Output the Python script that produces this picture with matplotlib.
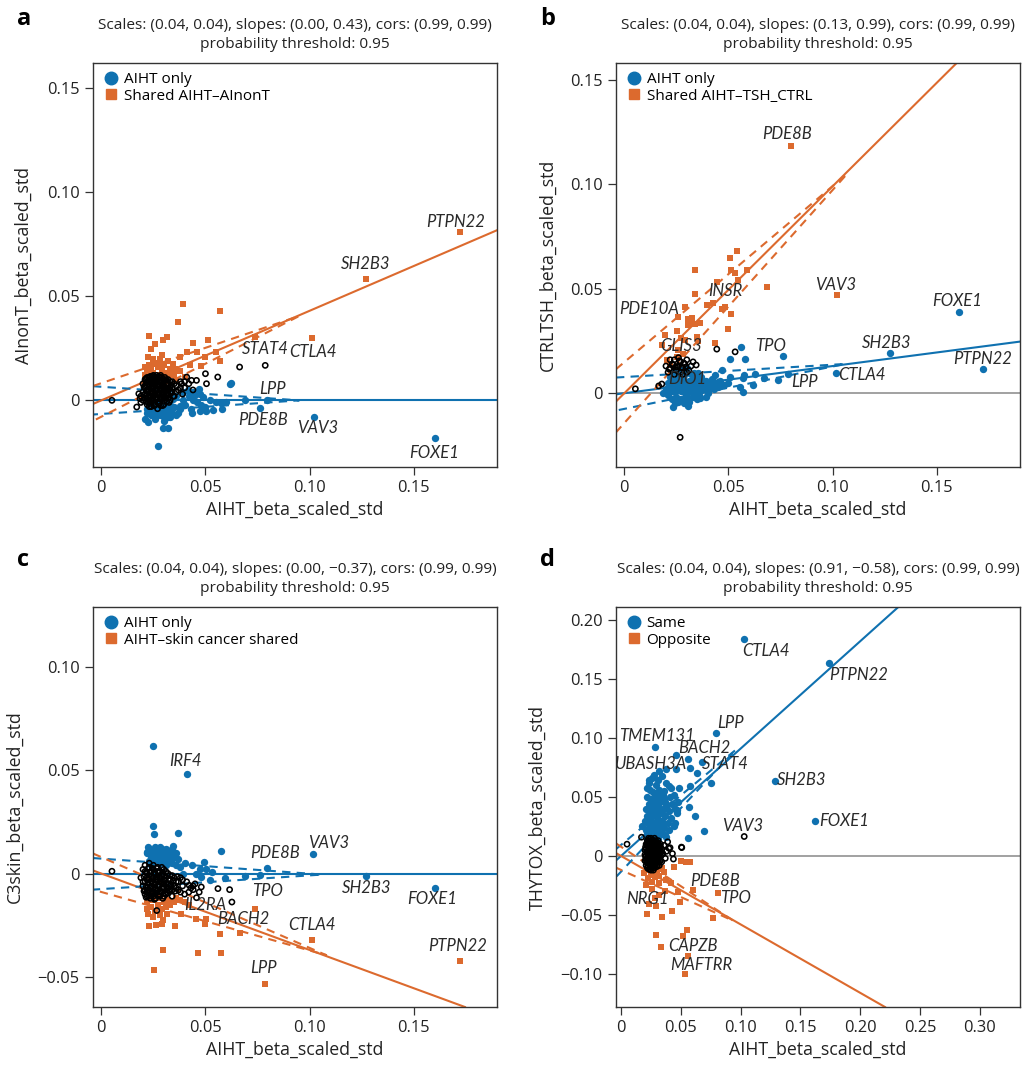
import matplotlib
matplotlib.use("Agg")
import matplotlib.pyplot as plt
from matplotlib.lines import Line2D

plt.rcParams['font.family'] = ['Open Sans', 'DejaVu Sans']

BLUE = '#0f71b0'
ORANGE = '#dc6a2e'

# ---------------- Panel a ----------------
a_blue = [(0.160,-0.018),(0.102,-0.008),(0.0763,-0.0038),(0.0796,0.0),(0.0688,0.0),(0.0274,-0.0219),
          (0.0295,-0.0133),(0.0318,-0.0133),(0.0226,-0.0104),(0.021,-0.0088),(0.0258,-0.008),(0.033,-0.008),
          (0.036,-0.0072),(0.0433,-0.006),(0.0473,-0.0053),(0.0505,-0.0053),(0.0537,-0.0048),(0.0576,-0.0013),
          (0.0616,0.008),(0.0624,0.0085),(0.047,0.0056),(0.0417,0.0048),(0.049,0.0016),(0.052,0.0),
          (0.0553,-0.0008),(0.0393,0.0),(0.0346,0.0008),(0.0314,-0.0016),(0.028,-0.0032),(0.0242,-0.0024),
          (0.0218,-0.004),(0.0266,-0.0056),(0.0306,-0.0064),(0.0377,-0.0029),(0.0441,0.0),(0.0473,0.0032),
          (0.045,0.0024),(0.023,-0.002),(0.025,-0.003),(0.027,-0.001),(0.029,-0.004),(0.031,-0.002),
          (0.033,-0.005),(0.035,-0.003),(0.026,-0.006),(0.024,-0.007),(0.028,-0.007),(0.032,-0.008),
          (0.037,-0.006),(0.040,-0.002),(0.043,-0.004),(0.046,-0.001),(0.022,-0.006),(0.030,-0.010),
          (0.026,-0.009),(0.034,-0.006),(0.038,-0.004),(0.036,0.002),(0.039,0.004),(0.042,0.002),
          (0.044,0.004),(0.048,-0.002),(0.050,-0.003),(0.058,-0.004),(0.060,-0.001),(0.0235,-0.0045),
          (0.0255,-0.0045),(0.0275,-0.0055),(0.0295,-0.0075),(0.0315,-0.0045),(0.0335,-0.0025)]
a_orange = [(0.039,0.0462),(0.0569,0.0428),(0.037,0.0375),(0.0229,0.0308),(0.0295,0.0288),(0.0258,0.0272),
            (0.0314,0.0304),(0.0438,0.0275),(0.051,0.0292),(0.074,0.0304),(0.101,0.0299),(0.127,0.0581),
            (0.172,0.0807),(0.041,0.0232),(0.046,0.0232),(0.055,0.0232),(0.050,0.0208),(0.057,0.0187),
            (0.0377,0.0208),(0.0342,0.0176),(0.0425,0.0168),(0.048,0.0163),(0.0354,0.0152),(0.028,0.020),
            (0.024,0.0248),(0.0226,0.021),(0.0266,0.0176),(0.022,0.014),(0.023,0.012),(0.024,0.015),
            (0.025,0.013),(0.026,0.011),(0.027,0.016),(0.028,0.012),(0.029,0.014),(0.030,0.011),(0.031,0.013),
            (0.032,0.012),(0.033,0.015),(0.024,0.011),(0.021,0.012),(0.023,0.017),(0.026,0.018),(0.028,0.019),
            (0.035,0.012),(0.038,0.014),(0.040,0.011),(0.036,0.010),(0.025,0.020),(0.029,0.022),(0.021,0.016),
            (0.030,0.017),(0.032,0.019)]
a_other = [(0.0051,0.0),(0.0664,0.016),(0.0787,0.0168),(0.0559,0.0112),(0.050,0.0128),(0.041,0.0112),
           (0.0457,0.0096),(0.0505,0.008),(0.0385,0.008),(0.017,-0.0032),(0.018,0.0032),(0.0186,0.0008),
           (0.0433,0.0096),(0.020,0.004),(0.020,0.008),(0.021,0.001),(0.021,0.006),(0.021,0.010),(0.022,-0.002),
           (0.022,0.003),(0.022,0.007),(0.022,0.011),(0.023,0.000),(0.023,0.005),(0.023,0.009),(0.024,-0.003),
           (0.024,0.002),(0.024,0.006),(0.024,0.010),(0.025,0.000),(0.025,0.004),(0.025,0.008),(0.025,0.012),
           (0.026,-0.002),(0.026,0.003),(0.026,0.007),(0.026,0.010),(0.027,0.001),(0.027,0.005),(0.027,0.009),
           (0.028,-0.001),(0.028,0.003),(0.028,0.007),(0.028,0.011),(0.029,0.001),(0.029,0.005),(0.029,0.009),
           (0.030,-0.002),(0.030,0.003),(0.030,0.007),(0.031,0.001),(0.031,0.005),(0.031,0.010),(0.032,0.003),
           (0.032,0.008),(0.033,0.000),(0.033,0.006),(0.034,0.004),(0.034,0.009),(0.035,0.002),(0.036,0.007),
           (0.037,0.005),(0.038,0.009),(0.039,0.003),(0.040,0.006),(0.042,0.008),(0.044,0.005),(0.019,0.002),
           (0.019,-0.001),(0.023,-0.003),(0.027,-0.004),
           (0.0205,0.0025),(0.0205,0.0065),(0.0215,-0.0005),(0.0215,0.0045),(0.0215,0.0085),(0.0225,0.0015),
           (0.0225,0.0055),(0.0225,0.0095),(0.0235,-0.0015),(0.0235,0.0035),(0.0235,0.0075),(0.0235,0.0115),
           (0.0245,0.0005),(0.0245,0.0045),(0.0245,0.0085),(0.0255,-0.0025),(0.0255,0.0025),(0.0255,0.0065),
           (0.0255,0.0105),(0.0265,0.0015),(0.0265,0.0055),(0.0265,0.0095),(0.0275,-0.0015),(0.0275,0.0035),
           (0.0275,0.0075),(0.0275,0.0115),(0.0285,0.0005),(0.0285,0.0055),(0.0285,0.0095),(0.0295,-0.0025),
           (0.0295,0.0035),(0.0295,0.0075),(0.0305,0.0015),(0.0305,0.0055),(0.0305,0.0095),(0.0315,-0.0005),
           (0.0315,0.0035),(0.0315,0.0075),(0.0325,0.0015),(0.0325,0.0055),(0.0335,0.0035),(0.0335,0.0075),
           (0.0210,0.0030),(0.0230,0.0070),(0.0250,0.0020),(0.0270,0.0070),(0.0290,0.0030),(0.0310,0.0080),
           (0.0240,0.0080),(0.0260,0.0050),(0.0280,0.0090),(0.0300,0.0050),(0.0220,0.0050),(0.0320,0.0050),
           (0.0200,0.0000),(0.0210,0.0070),(0.0220,0.0090),(0.0230,0.0020),(0.0230,0.0110),(0.0240,0.0000),
           (0.0240,0.0040),(0.0250,0.0060),(0.0250,0.0100),(0.0260,0.0010),(0.0260,0.0085),(0.0270,0.0030),
           (0.0270,0.0110),(0.0280,0.0010),(0.0280,0.0050),(0.0290,0.0070),(0.0290,0.0110),(0.0300,0.0010),
           (0.0300,0.0090),(0.0310,0.0030),(0.0310,0.0060),(0.0320,0.0010),(0.0320,0.0100),(0.0330,0.0040),
           (0.0330,0.0090),(0.0340,0.0060),(0.0345,0.0020),(0.0350,0.0080),(0.0215,0.0105),(0.0245,0.0115),
           (0.0265,0.0120),(0.0285,0.0120),(0.0305,0.0110),(0.0225,-0.0010),(0.0255,-0.0010),(0.0285,-0.0025),
           (0.0325,-0.0010),(0.0360,0.0040),(0.0380,0.0060),(0.0400,0.0090)]
a_slopes = (0.00, 0.43)
a_env_blue = ([-0.004, 0.095, -0.004], [0.0068, 0.0, -0.0068])
a_env_orange = ([-0.004, 0.095, -0.004], [0.0069, 0.0405, -0.0099])
a_genes = [("PTPN22",0.1702,0.0855),("SH2B3",0.1269,0.0655),("STAT4",0.0787,0.0248),("CTLA4",0.1014,0.0232),
           ("LPP",0.0823,0.0056),("PDE8B",0.0775,-0.0096),("VAV3",0.1038,-0.0133),("FOXE1",0.160,-0.0251)]

# ---------------- Panel b ----------------
b_blue = [(0.1607,0.039),(0.1275,0.0194),(0.1724,0.0116),(0.1016,0.0095),(0.0764,0.0179),(0.0559,0.0219),
          (0.0508,0.0162),(0.0579,0.0162),(0.0468,0.0111),(0.0436,0.0087),(0.0508,0.0079),(0.0575,0.0087),
          (0.0628,0.0092),(0.067,0.0071),(0.074,0.0063),(0.0788,0.0092),(0.062,0.004),(0.0572,0.0071),
          (0.0556,0.0032),(0.0572,0.0005),(0.050,0.0048),(0.0452,0.0056),(0.0412,0.0048),(0.0372,0.0063),
          (0.0356,0.0095),(0.0404,0.0016),(0.0364,-0.0024),(0.0308,-0.0063),(0.0233,-0.0067),(0.0292,-0.0032),
          (0.0188,0.0),(0.020,0.002),(0.021,-0.001),(0.022,0.004),(0.023,0.001),(0.023,-0.003),(0.024,0.006),
          (0.025,0.002),(0.025,-0.002),(0.026,0.005),(0.026,0.008),(0.027,0.001),(0.027,-0.003),(0.028,0.004),
          (0.028,0.007),(0.029,0.000),(0.029,0.009),(0.030,0.003),(0.030,-0.002),(0.031,0.006),(0.032,0.001),
          (0.032,0.009),(0.033,0.004),(0.033,-0.002),(0.034,0.007),(0.035,0.002),(0.036,0.005),(0.036,-0.001),
          (0.037,0.008),(0.038,0.003),(0.039,0.006),(0.040,0.000),(0.041,0.004),(0.042,0.007),(0.043,0.002),
          (0.044,0.005),(0.045,0.003),(0.046,0.006),(0.048,0.004),(0.024,0.010),(0.027,0.011),(0.030,0.012),
          (0.022,0.008),(0.021,0.005),(0.031,-0.004),(0.026,-0.004),(0.035,-0.003),(0.039,-0.002),
          (0.0215,0.0025),(0.0235,0.0045),(0.0245,0.0005),(0.0265,0.0025),(0.0275,0.0065),(0.0285,0.0015),
          (0.0295,0.0055),(0.0305,0.0005),(0.0315,0.0035),(0.0325,0.0065),(0.0345,0.0005),(0.0355,0.0045),
          (0.0375,0.0015),(0.0395,0.0035),(0.0245,-0.0045),(0.0285,-0.0045),(0.0335,0.0095)]
b_orange = [(0.0799,0.1183),(0.1022,0.047),(0.054,0.068),(0.0508,0.0646),(0.0337,0.059),(0.0591,0.059),
            (0.0513,0.059),(0.0532,0.0575),(0.0548,0.0543),(0.0447,0.0532),(0.0687,0.0508),(0.0337,0.0473),
            (0.0425,0.0432),(0.0396,0.0424),(0.0292,0.0413),(0.0471,0.0402),(0.0484,0.0413),(0.0256,0.0365),
            (0.0511,0.0378),(0.0305,0.0357),(0.0327,0.036),(0.0364,0.0337),(0.0308,0.0325),(0.0324,0.033),
            (0.034,0.0333),(0.050,0.0306),(0.0251,0.0297),(0.0193,0.0278),(0.0273,0.0262),(0.0348,0.027),
            (0.0292,0.0254),(0.0353,0.0251),(0.018,0.023),(0.0436,0.0238),(0.026,0.0206),(0.0284,0.019),
            (0.0204,0.0159),(0.0252,0.0175),(0.022,0.0135)]
b_other = [(0.0268,-0.0211),(0.0053,0.0021),(0.0165,0.0035),(0.018,0.0044),(0.0444,0.0211),(0.0532,0.0198),
           (0.0345,0.0135),(0.022,0.012),(0.023,0.014),(0.024,0.016),(0.025,0.011),(0.026,0.013),(0.027,0.015),
           (0.028,0.012),(0.029,0.014),(0.030,0.016),(0.031,0.011),(0.021,0.010),(0.024,0.009),(0.028,0.009),
           (0.032,0.013),(0.020,0.013),(0.026,0.017),(0.030,0.010),(0.033,0.015),(0.022,0.016),(0.027,0.010),
           (0.0215,0.0115),(0.0235,0.0135),(0.0255,0.0125),(0.0265,0.0155),(0.0275,0.0125),(0.0285,0.0145),
           (0.0295,0.0125),(0.0245,0.0125)]
b_slopes = (0.13, 0.99)
b_env_blue = ([-0.004, 0.106, -0.004], [0.0075, 0.014, -0.0083])
b_env_orange = ([-0.004, 0.107, -0.004], [0.0115, 0.105, -0.0187])
b_genes = [("PDE8B",0.0781,0.1238),("VAV3",0.1016,0.0516),("FOXE1",0.1599,0.044),("SH2B3",0.1262,0.0241),
           ("PTPN22",0.1722,0.0163),("CTLA4",0.1142,0.0087),("LPP",0.0867,0.0056),("TPO",0.0704,0.0225),
           ("INSR",0.0484,0.0487),("PDE10A",0.012,0.0402),("GLIS3",0.0272,0.0227),("DIO1",0.030,0.0068)]

# ---------------- Panel c ----------------
c_blue = [(0.025,0.0617),(0.0411,0.0482),(0.0247,0.0232),(0.0252,0.0192),(0.0366,0.0198),(0.0344,0.0135),
          (0.0576,0.0109),(0.1018,0.0096),(0.0796,0.0028),(0.0761,-0.0008),(0.0688,-0.0011),(0.0594,-0.0023),
          (0.1269,-0.0011),(0.160,-0.0071),(0.052,-0.0032),(0.0533,0.0008),(0.0505,0.0024),(0.0492,0.0057),
          (0.0473,0.002),(0.0433,0.004),(0.0401,0.0052),(0.039,0.0),(0.0346,0.0097),(0.0314,0.0106),
          (0.0282,0.013),(0.0218,0.0106),(0.0226,0.013),(0.0266,0.0081),(0.0306,0.0073),(0.0322,0.0049),
          (0.0457,0.0),(0.048,-0.0016),(0.022,0.010),(0.023,0.012),(0.024,0.008),(0.025,0.011),(0.025,0.006),
          (0.026,0.013),(0.026,0.009),(0.027,0.007),(0.027,0.011),(0.028,0.010),(0.028,0.005),(0.029,0.012),
          (0.029,0.008),(0.030,0.010),(0.030,0.006),(0.031,0.012),(0.031,0.004),(0.032,0.009),(0.033,0.007),
          (0.033,0.011),(0.034,0.005),(0.035,0.008),(0.036,0.004),(0.037,0.007),(0.038,0.003),(0.024,0.004),
          (0.023,0.006),(0.034,0.012),(0.036,0.010)]
c_orange = [(0.172,-0.0425),(0.0787,-0.0536),(0.1011,-0.032),(0.0739,-0.017),(0.0667,-0.0286),(0.0568,-0.0292),
            (0.0576,-0.0385),(0.0462,-0.0385),(0.0295,-0.037),(0.0252,-0.0468),(0.0229,-0.0256),(0.0261,-0.0247),
            (0.0293,-0.0244),(0.0298,-0.0227),(0.0354,-0.0256),(0.0381,-0.0195),(0.0457,-0.0219),(0.0505,-0.0219),
            (0.0497,-0.0244),(0.0226,-0.0195),(0.025,-0.0211),(0.0282,-0.0203),(0.0314,-0.0195),(0.0218,-0.017),
            (0.022,-0.014),(0.024,-0.016),(0.025,-0.013),(0.027,-0.015),(0.028,-0.012),(0.029,-0.017),
            (0.030,-0.014),(0.031,-0.016),(0.032,-0.013),(0.033,-0.015),(0.035,-0.014),(0.036,-0.012),
            (0.038,-0.013),(0.040,-0.014),(0.042,-0.015),(0.026,-0.018),(0.023,-0.013)]
c_other = [(0.0051,0.0011),(0.0627,-0.0138),(0.0616,-0.0078),(0.056,-0.0073),(0.048,-0.0065),(0.0441,-0.0078),
           (0.0422,-0.0057),(0.0457,-0.0117),(0.0266,-0.0179),(0.019,-0.002),(0.020,0.002),(0.020,-0.006),
           (0.021,0.004),(0.021,-0.004),(0.021,-0.010),(0.022,0.000),(0.022,-0.007),(0.023,0.005),(0.023,-0.003),
           (0.023,-0.011),(0.024,0.001),(0.024,-0.006),(0.025,0.004),(0.025,-0.002),(0.025,-0.009),(0.026,0.000),
           (0.026,-0.005),(0.026,-0.012),(0.027,0.003),(0.027,-0.003),(0.027,-0.008),(0.028,0.001),(0.028,-0.006),
           (0.028,-0.011),(0.029,-0.001),(0.029,-0.004),(0.029,-0.009),(0.030,0.002),(0.030,-0.007),(0.031,-0.002),
           (0.031,-0.010),(0.032,0.000),(0.032,-0.005),(0.033,-0.008),(0.033,-0.003),(0.034,-0.001),(0.034,-0.011),
           (0.035,-0.006),(0.036,-0.004),(0.037,-0.008),(0.038,-0.002),(0.039,-0.006),(0.040,-0.010),(0.041,-0.004),
           (0.043,-0.007),(0.045,-0.005),(0.047,-0.009),
           (0.0205,-0.0015),(0.0205,-0.0085),(0.0215,0.0005),(0.0215,-0.0065),(0.0225,0.0025),(0.0225,-0.0045),
           (0.0225,-0.0095),(0.0235,0.0005),(0.0235,-0.0065),(0.0245,0.0025),(0.0245,-0.0025),(0.0245,-0.0095),
           (0.0255,0.0005),(0.0255,-0.0055),(0.0265,0.0025),(0.0265,-0.0025),(0.0265,-0.0085),(0.0275,0.0005),
           (0.0275,-0.0055),(0.0275,-0.0105),(0.0285,-0.0025),(0.0285,-0.0085),(0.0295,0.0005),(0.0295,-0.0065),
           (0.0305,-0.0035),(0.0305,-0.0095),(0.0315,-0.0065),(0.0325,-0.0025),(0.0325,-0.0085),(0.0335,-0.0055),
           (0.0345,-0.0035),(0.0355,-0.0085),(0.0365,-0.0015),
           (0.0220,-0.0020),(0.0240,-0.0040),(0.0260,-0.0070),(0.0280,-0.0040),(0.0300,-0.0050),(0.0220,-0.0080),
           (0.0240,-0.0100),(0.0260,-0.0030),(0.0280,-0.0090),(0.0300,-0.0010),(0.0320,-0.0070),(0.0250,-0.0070),
           (0.0200,-0.0040),(0.0210,-0.0080),(0.0210,0.0010),(0.0220,-0.0030),(0.0220,-0.0110),(0.0230,-0.0080),
           (0.0230,0.0030),(0.0240,-0.0010),(0.0240,-0.0070),(0.0250,-0.0110),(0.0250,0.0020),(0.0260,-0.0040),
           (0.0260,-0.0095),(0.0270,0.0010),(0.0270,-0.0060),(0.0280,-0.0020),(0.0280,-0.0100),(0.0290,0.0030),
           (0.0290,-0.0070),(0.0300,-0.0030),(0.0300,-0.0110),(0.0310,-0.0050),(0.0310,0.0010),(0.0320,-0.0095),
           (0.0330,-0.0010),(0.0330,-0.0060),(0.0340,-0.0080),(0.0350,-0.0020),(0.0360,-0.0070),(0.0370,-0.0040),
           (0.0380,-0.0090),(0.0390,-0.0030),(0.0215,-0.0115),(0.0235,-0.0120),(0.0255,-0.0125),(0.0295,-0.0120),
           (0.0420,-0.0090),(0.0440,-0.0060)]
c_slopes = (0.00, -0.37)
c_env_blue = ([-0.004, 0.106, -0.004], [0.0075, -0.0005, -0.0078])
c_env_orange = ([-0.004, 0.108, -0.004], [0.0097, -0.0395, -0.0078])
c_genes = [("IRF4",0.0403,0.0547),("VAV3",0.1094,0.0149),("PDE8B",0.0834,0.0101),("TPO",0.0799,-0.0084),
           ("SH2B3",0.1272,-0.0068),("FOXE1",0.1588,-0.0125),("IL2RA",0.0500,-0.0150),("BACH2",0.0680,-0.0222),
           ("CTLA4",0.1011,-0.0247),("PTPN22",0.171,-0.0352),("LPP",0.078,-0.0458)]

# ---------------- Panel d ----------------
d_blue = [(0.1025,0.1838),(0.1742,0.1639),(0.0798,0.1045),(0.0284,0.0923),(0.0463,0.0852),(0.0556,0.0818),
          (0.0674,0.0798),(0.0374,0.0739),(0.0458,0.0733),(0.0576,0.0744),(0.0632,0.0699),(0.0275,0.069),
          (0.0233,0.0648),(0.0402,0.0591),(0.0486,0.0577),(0.0576,0.0591),(0.0753,0.0619),(0.1287,0.0639),
          (0.0219,0.0577),(0.036,0.0548),(0.0444,0.052),(0.057,0.0412),(0.0621,0.0335),(0.0452,0.0278),
          (0.0691,0.0213),(0.0562,0.0156),(0.1621,0.0298),(0.0374,0.042),(0.0472,0.0392),(0.0317,0.0307),
          (0.0177,0.025),(0.0402,0.0222),(0.036,0.0483),(0.020,0.030),(0.021,0.022),(0.021,0.040),(0.022,0.015),
          (0.022,0.034),(0.022,0.050),(0.023,0.026),(0.023,0.044),(0.024,0.018),(0.024,0.038),(0.024,0.056),
          (0.025,0.030),(0.025,0.048),(0.026,0.013),(0.026,0.022),(0.026,0.042),(0.027,0.035),(0.027,0.054),
          (0.028,0.017),(0.028,0.028),(0.028,0.046),(0.029,0.038),(0.029,0.060),(0.030,0.022),(0.030,0.032),
          (0.030,0.050),(0.031,0.014),(0.031,0.042),(0.032,0.026),(0.032,0.056),(0.033,0.036),(0.033,0.046),
          (0.034,0.019),(0.034,0.030),(0.035,0.040),(0.035,0.052),(0.036,0.024),(0.037,0.034),(0.037,0.046),
          (0.038,0.016),(0.039,0.028),(0.040,0.038),(0.041,0.050),(0.042,0.032),(0.043,0.044),(0.044,0.025),
          (0.045,0.040),(0.047,0.036),(0.048,0.046),(0.023,0.062),(0.026,0.066),(0.031,0.064),(0.034,0.068),
          (0.038,0.062),(0.042,0.058),(0.032,0.072),(0.0215,0.0185),(0.0235,0.0335),(0.0255,0.0395),
          (0.0265,0.0175),(0.0275,0.0245),(0.0285,0.0525),(0.0295,0.0155),(0.0305,0.0425),(0.0315,0.0295),
          (0.0325,0.0195),(0.0335,0.0505),(0.0345,0.0365),(0.0355,0.0275),(0.0365,0.0175),(0.0385,0.0435)]
d_orange = [(0.0534,-0.100),(0.0556,-0.0852),(0.0337,-0.0773),(0.0295,-0.0673),(0.052,-0.0679),(0.0548,-0.0625),
            (0.0346,-0.0517),(0.0219,-0.0494),(0.043,-0.0469),(0.0772,-0.0526),(0.0295,-0.0423),(0.0494,-0.0389),
            (0.0809,-0.0313),(0.0598,-0.029),(0.048,-0.0304),(0.0368,-0.0295),(0.0317,-0.0332),(0.0233,-0.0403),
            (0.0256,-0.0276),(0.0261,-0.0219),(0.0228,-0.019),(0.0374,-0.0205),(0.0444,-0.0097),(0.050,-0.004),
            (0.0579,-0.0048),(0.0542,-0.0048),(0.0289,-0.0148),(0.0346,-0.0105),(0.0317,-0.0233),(0.0416,-0.0233),
            (0.0191,-0.0148),(0.0211,-0.0247),(0.0284,-0.0352),(0.024,-0.012),(0.027,-0.010),(0.030,-0.013),
            (0.033,-0.011),(0.036,-0.014),(0.025,-0.016),(0.028,-0.018),(0.032,-0.017)]
d_other = [(0.005,0.010),(0.103,0.0165),(0.0508,0.0071),(0.0438,-0.0026),(0.0171,0.0159),(0.040,0.0065),
           (0.0505,0.0075),(0.020,0.005),(0.020,-0.004),(0.021,0.010),(0.021,0.000),(0.021,-0.008),(0.022,0.013),
           (0.022,0.004),(0.022,-0.005),(0.023,0.008),(0.023,-0.001),(0.023,-0.011),(0.024,0.011),(0.024,0.002),
           (0.024,-0.007),(0.025,0.015),(0.025,0.006),(0.025,-0.003),(0.025,-0.012),(0.026,0.009),(0.026,0.000),
           (0.026,-0.009),(0.027,0.012),(0.027,0.004),(0.027,-0.005),(0.028,0.007),(0.028,-0.002),(0.028,-0.010),
           (0.029,0.010),(0.029,0.001),(0.029,-0.007),(0.030,0.005),(0.030,-0.004),(0.031,0.013),(0.031,0.008),
           (0.031,-0.001),(0.032,0.003),(0.032,-0.008),(0.033,0.010),(0.033,0.000),(0.034,0.006),(0.034,-0.005),
           (0.035,0.002),(0.036,0.009),(0.037,-0.002),(0.038,0.004),(0.039,0.012),(0.041,0.007),(0.043,0.002),
           (0.0205,0.0075),(0.0205,-0.0005),(0.0215,0.0035),(0.0215,-0.0055),(0.0225,0.0095),(0.0225,0.0005),
           (0.0225,-0.0085),(0.0235,0.0125),(0.0235,0.0045),(0.0235,-0.0045),(0.0245,0.0075),(0.0245,-0.0015),
           (0.0245,-0.0095),(0.0255,0.0105),(0.0255,0.0025),(0.0255,-0.0065),(0.0265,0.0135),(0.0265,0.0055),
           (0.0265,-0.0035),(0.0275,0.0085),(0.0275,-0.0005),(0.0275,-0.0085),(0.0285,0.0115),(0.0285,0.0025),
           (0.0285,-0.0055),(0.0295,0.0065),(0.0295,-0.0025),(0.0305,0.0105),(0.0305,0.0015),(0.0305,-0.0075),
           (0.0315,0.0045),(0.0325,0.0085),(0.0325,-0.0035),(0.0335,0.0035),
           (0.0200,0.0010),(0.0210,0.0060),(0.0210,-0.0030),(0.0220,0.0110),(0.0220,-0.0020),(0.0220,-0.0100),
           (0.0230,0.0050),(0.0230,-0.0060),(0.0240,0.0140),(0.0240,0.0050),(0.0240,-0.0040),(0.0250,0.0090),
           (0.0250,0.0000),(0.0250,-0.0080),(0.0260,0.0120),(0.0260,0.0035),(0.0260,-0.0060),(0.0270,0.0070),
           (0.0270,-0.0020),(0.0270,-0.0100),(0.0280,0.0100),(0.0280,0.0010),(0.0280,-0.0070),(0.0290,0.0130),
           (0.0290,0.0040),(0.0290,-0.0040),(0.0300,0.0080),(0.0300,-0.0010),(0.0310,0.0110),(0.0310,0.0020),
           (0.0310,-0.0050),(0.0320,0.0060),(0.0320,-0.0020),(0.0330,0.0070),(0.0330,-0.0040),(0.0340,0.0010),
           (0.0240,-0.0115),(0.0270,-0.0120),(0.0300,-0.0090),(0.0230,0.0150),(0.0280,0.0150)]
d_slopes = (0.91, -0.58)
d_env_blue = ([-0.004, 0.096, -0.004], [0.006, 0.090, -0.0176])
d_env_orange = ([-0.004, 0.094, -0.004], [0.0105, -0.055, -0.010])
d_genes = [("CTLA4",0.1208,0.1741),("PTPN22",0.1989,0.1534),("LPP",0.0913,0.1125),("TMEM131",0.0303,0.1017),
           ("BACH2",0.0697,0.0912),("UBASH3A",0.0247,0.0781),("STAT4",0.0871,0.0781),("SH2B3",0.1511,0.0648),
           ("FOXE1",0.1862,0.0293),("VAV3",0.102,0.025),("PDE8B",0.0787,-0.0213),("TPO",0.0955,-0.0352),
           ("NRG1",0.0219,-0.0361),("CAPZB",0.0604,-0.0764),("MAFTRR",0.0674,-0.0923)]

titles = ["Scales: (0.04, 0.04), slopes: (0.00, 0.43), cors: (0.99, 0.99)",
          "Scales: (0.04, 0.04), slopes: (0.13, 0.99), cors: (0.99, 0.99)",
          "Scales: (0.04, 0.04), slopes: (0.00, \u22120.37), cors: (0.99, 0.99)",
          "Scales: (0.04, 0.04), slopes: (0.91, \u22120.58), cors: (0.99, 0.99)"]
ylabels = ["AInonT_beta_scaled_std", "CTRLTSH_beta_scaled_std", "C3skin_beta_scaled_std", "THYTOX_beta_scaled_std"]
legend_labels = [("AIHT only", "Shared AIHT\u2013AInonT"), ("AIHT only", "Shared AIHT\u2013TSH_CTRL"),
                 ("AIHT only", "AIHT\u2013skin cancer shared"), ("Same", "Opposite")]
letters = ["a", "b", "c", "d"]
xticks = [[0, 0.05, 0.10, 0.15], [0, 0.05, 0.10, 0.15], [0, 0.05, 0.10, 0.15],
          [0, 0.05, 0.10, 0.15, 0.20, 0.25, 0.30]]
yticks = [[0, 0.05, 0.10, 0.15], [0, 0.05, 0.10, 0.15], [-0.05, 0, 0.05, 0.10],
          [-0.10, -0.05, 0, 0.05, 0.10, 0.15, 0.20]]
xlims = [(-0.004, 0.19), (-0.004, 0.19), (-0.004, 0.19), (-0.0042, 0.3336)]
ylims = [(-0.032, 0.162), (-0.0353, 0.158), (-0.0646, 0.129), (-0.128, 0.211)]

def fmt(v):
    if abs(v) < 1e-12:
        return "0"
    s = f"{abs(v):.2f}"
    return ("\u2212" if v < 0 else "") + s

W, H = 1025, 1068
fig = plt.figure(figsize=(W/100, H/100), dpi=100)
rects = [(93, 63), (616, 63), (93, 607), (616, 607)]
heights = [404, 404, 400, 400]

panels = [(a_blue, a_orange, a_other, a_slopes, a_env_blue, a_env_orange, a_genes),
          (b_blue, b_orange, b_other, b_slopes, b_env_blue, b_env_orange, b_genes),
          (c_blue, c_orange, c_other, c_slopes, c_env_blue, c_env_orange, c_genes),
          (d_blue, d_orange, d_other, d_slopes, d_env_blue, d_env_orange, d_genes)]

for i, (blue, orange, other, slopes, envb, envo, genes) in enumerate(panels):
    L, T = rects[i]
    h = heights[i]
    ax = fig.add_axes([L/W, 1 - (T + h)/H, 404/W, h/H])
    ax.set_xlim(*xlims[i]); ax.set_ylim(*ylims[i])
    ax.axhline(0, color='#9a9a9a', lw=1.3, zorder=1)
    ax.axline((0, 0), slope=slopes[0], color=BLUE, lw=1.5, zorder=2)
    ax.axline((0, 0), slope=slopes[1], color=ORANGE, lw=1.5, zorder=2)
    ax.plot(envb[0], envb[1], color=BLUE, lw=1.5, ls=(0, (4, 3)), zorder=2)
    ax.plot(envo[0], envo[1], color=ORANGE, lw=1.5, ls=(0, (4, 3)), zorder=2)
    ax.scatter([p[0] for p in blue], [p[1] for p in blue], s=28, color=BLUE, marker='o', lw=0, zorder=3)
    ax.scatter([p[0] for p in orange], [p[1] for p in orange], s=18, color=ORANGE, marker='s', lw=0, zorder=3)
    ax.scatter([p[0] for p in other], [p[1] for p in other], s=14, facecolors='none', edgecolors='black',
               marker='o', lw=1.15, zorder=4)
    for name, gx, gy in genes:
        ax.text(gx, gy, name, fontstyle='italic', fontsize=12, family=['Lato', 'DejaVu Sans'],
                color='#2a2a2a', ha='center', va='center', zorder=5)
    ax.set_xticks(xticks[i]); ax.set_xticklabels([fmt(v) for v in xticks[i]])
    ax.set_yticks(yticks[i]); ax.set_yticklabels([fmt(v) for v in yticks[i]])
    ax.tick_params(labelsize=11.8, length=5.5, width=0.9, color='#333333', labelcolor='#222222', pad=4)
    for sp in ax.spines.values():
        sp.set_linewidth(1.0); sp.set_color('#333333')
    ax.set_xlabel("AIHT_beta_scaled_std", fontsize=12.8, labelpad=3, color='#222222')
    ax.set_ylabel(ylabels[i], fontsize=12.8, labelpad=10, color='#222222')
    ax.set_title(titles[i] + "\nprobability threshold: 0.95", fontsize=11.1, pad=11, color='#222222',
                 linespacing=1.3)
    handles = [Line2D([], [], marker='o', ls='', color=BLUE, markersize=9),
               Line2D([], [], marker='s', ls='', color=ORANGE, markersize=7.5)]
    ax.legend(handles, legend_labels[i], loc='upper left', frameon=False, fontsize=11,
              handletextpad=0.2, borderaxespad=0.3, labelspacing=0.1, handlelength=1.2, borderpad=0.3)
    fig.text((L - 76)/W, 1 - 19/H if i < 2 else 1 - 560/H, letters[i], fontsize=17, fontweight='bold',
             ha='left', va='center')

fig.savefig("out.png", dpi=100)
